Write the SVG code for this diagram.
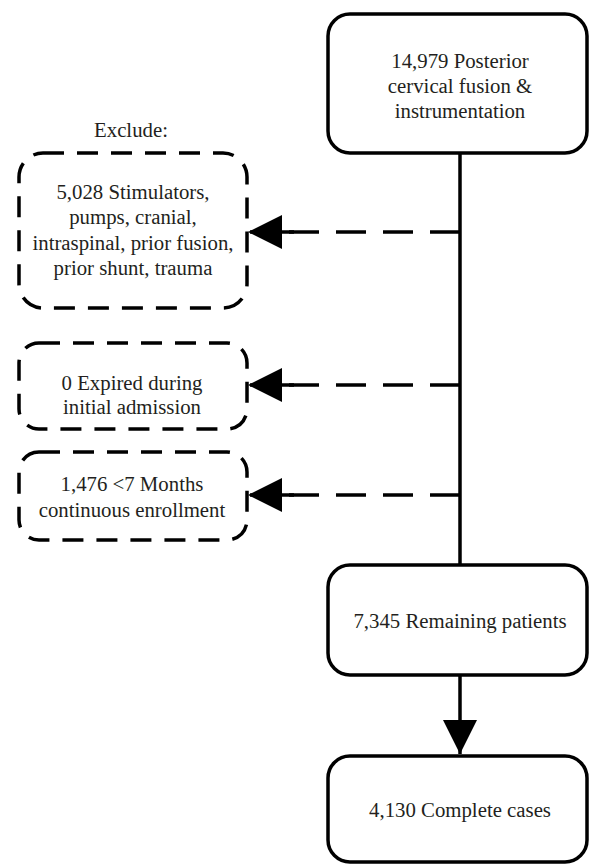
<svg xmlns="http://www.w3.org/2000/svg" width="589" height="864" viewBox="0 0 589 864">
<defs>
<style>
.box{fill:#fff;stroke:#000;stroke-width:3.5}
.dbox{fill:#fff;stroke:#000;stroke-width:3.5;stroke-dasharray:21 13}
.t{font-family:"Liberation Serif","Times New Roman",serif;font-size:20.8px;fill:#231f20;text-anchor:middle}
.ln{stroke:#000;stroke-width:3.5;fill:none}
.dl{stroke:#000;stroke-width:3.5;fill:none;stroke-dasharray:30 17}
</style>
<marker id="ah" markerWidth="36" markerHeight="36" refX="34" refY="17" orient="auto" markerUnits="userSpaceOnUse">
<path d="M0,0 L34,17 L0,34 Z" fill="#000"/>
</marker>
</defs>
<rect width="589" height="864" fill="#fff"/>
<g id="connectors">
<line class="ln" x1="460" y1="153" x2="460" y2="565"/>
<line class="ln" x1="460" y1="675" x2="460" y2="754" marker-end="url(#ah)"/>
<line class="dl" x1="460" y1="232" x2="250" y2="232"/>
<line class="dl" x1="460" y1="385" x2="250" y2="385"/>
<line class="dl" x1="460" y1="495" x2="250" y2="495"/>
<path d="M282,215 L248,232 L282,249 Z"/>
<path d="M282,368 L248,385 L282,402 Z"/>
<path d="M282,478 L248,495 L282,512 Z"/>
<line class="ln" x1="282" y1="232" x2="294" y2="232"/>
<line class="ln" x1="282" y1="385" x2="294" y2="385"/>
<line class="ln" x1="282" y1="495" x2="294" y2="495"/>
</g>
<g id="n1">
<rect class="box" x="328" y="14" width="259" height="139" rx="22"/>
<text class="t" x="460" y="68">14,979 Posterior</text>
<text class="t" x="460" y="93">cervical fusion &amp;</text>
<text class="t" x="460" y="118">instrumentation</text>
</g>
<g id="label-exclude">
<text class="t" x="131" y="137">Exclude:</text>
</g>
<g id="e1">
<rect class="dbox" x="19" y="153" width="228" height="155" rx="24"/>
<text class="t" x="133" y="199">5,028 Stimulators,</text>
<text class="t" x="133" y="224">pumps, cranial,</text>
<text class="t" x="133" y="250">intraspinal, prior fusion,</text>
<text class="t" x="133" y="275">prior shunt, trauma</text>
</g>
<g id="e2">
<rect class="dbox" x="19" y="343" width="228" height="86" rx="20"/>
<text class="t" x="132" y="390">0 Expired during</text>
<text class="t" x="132" y="414">initial admission</text>
</g>
<g id="e3">
<rect class="dbox" x="19" y="452" width="228" height="88" rx="20"/>
<text class="t" x="132" y="491">1,476 &lt;7 Months</text>
<text class="t" x="132" y="517">continuous enrollment</text>
</g>
<g id="n2">
<rect class="box" x="328" y="565" width="259" height="110" rx="22"/>
<text class="t" x="460" y="628">7,345 Remaining patients</text>
</g>
<g id="n3">
<rect class="box" x="328" y="756" width="259" height="106" rx="22"/>
<text class="t" x="460" y="817">4,130 Complete cases</text>
</g>
</svg>
